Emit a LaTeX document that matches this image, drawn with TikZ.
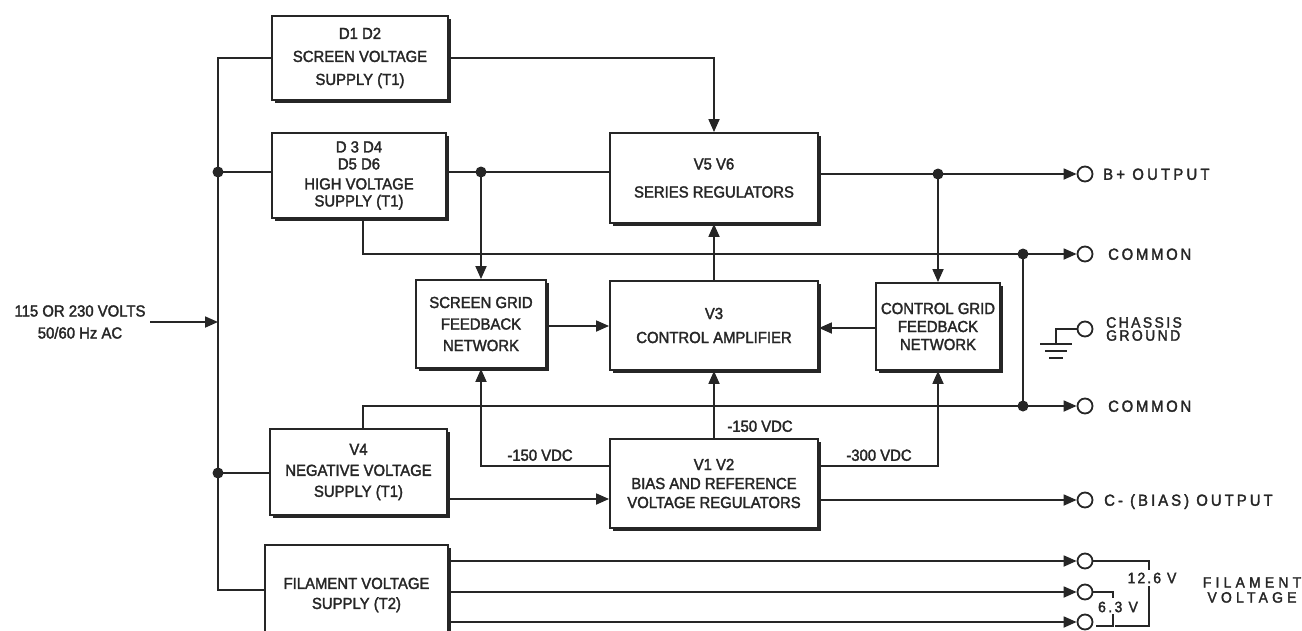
\documentclass[tikz,border=0pt]{standalone}
\usepackage{fontspec}
\setmainfont{Liberation Sans}[FakeStretch=0.93,FakeBold=2]
\usetikzlibrary{arrows.meta,shadows}
\definecolor{ink}{HTML}{262626}
\tikzset{
  blk/.style={draw=ink, line width=1.9pt, fill=white, align=center, inner sep=2pt,
    drop shadow={shadow xshift=3.2pt, shadow yshift=-3.2pt, fill=ink, draw=none, opacity=1}},
  bx/.style={font=\fontsize{16pt}{#1pt}\selectfont},
  ln/.style={line width=1.8pt},
  arr/.style={ln, -{Triangle[length=13pt,width=11pt]}},
  tml/.style={circle, draw=ink, line width=1.8pt, minimum size=15pt, inner sep=0pt, fill=white},
  jdot/.style={circle, fill=ink, inner sep=0pt, minimum size=11pt},
  lbl/.style={inner sep=0pt, text height=11.5pt, text depth=0pt, font=\fontsize{16pt}{18pt}\selectfont},
  sp/.style={inner sep=0pt, text height=11.5pt, text depth=0pt, anchor=west,
    font=\fontsize{16pt}{18pt}\selectfont\addfontfeature{LetterSpace=#1}},
  small/.style 2 args={inner sep=0pt, font=\fontsize{15pt}{#1pt}\selectfont\addfontfeature{LetterSpace=#2}},
}
\begin{document}
\begin{tikzpicture}[x=1pt,y=-1pt,color=ink]
\fill[white] (0,0) rectangle (1302,630);
\useasboundingbox (0,0) rectangle (1302,630);

% blocks
\node[blk, bx=23, minimum width=176pt, minimum height=84pt] (scr) at (360,58) {D1 D2\\SCREEN VOLTAGE\\SUPPLY (T1)};
\node[blk, bx=17, minimum width=174pt, minimum height=85pt] (hv) at (359,175.5) {D 3 D4\\D5 D6\\[3pt]HIGH VOLTAGE\\SUPPLY (T1)};
\node[blk, bx=28, minimum width=208pt, minimum height=90pt] (v56) at (714,178) {V5 V6\\SERIES REGULATORS};
\node[blk, bx=21.5, minimum width=130pt, minimum height=88pt] (sg) at (481,324) {SCREEN GRID\\FEEDBACK\\NETWORK};
\node[blk, bx=24, minimum width=208pt, minimum height=89pt] (v3) at (714,325.5) {V3\\CONTROL AMPLIFIER};
\node[blk, bx=18, minimum width=124pt, minimum height=87pt] (cg) at (938,326.5) {CONTROL GRID\\FEEDBACK\\NETWORK};
\node[blk, bx=21, minimum width=177pt, minimum height=86pt] (nv) at (358.5,472) {V4\\NEGATIVE VOLTAGE\\SUPPLY (T1)};
\node[blk, bx=19, minimum width=208pt, minimum height=89pt] (bias) at (714,483.5) {V1 V2\\BIAS AND REFERENCE\\VOLTAGE REGULATORS};
\node[blk, bx=20, minimum width=183pt, minimum height=100pt] (fil) at (356.5,595) {FILAMENT VOLTAGE\\SUPPLY (T2)};

% terminals
\node[tml] (tB) at (1085,174) {};
\node[tml] (tC1) at (1085,254) {};
\node[tml] (tG) at (1085,329) {};
\node[tml] (tC2) at (1085,406) {};
\node[tml] (tBias) at (1085,500) {};
\node[tml] (tF1) at (1085,561) {};
\node[tml] (tF2) at (1085,592) {};
\node[tml] (tF3) at (1085,622) {};

% junctions
\node[jdot] (j1) at (218,172) {};
\node[jdot] (j2) at (218,473) {};
\node[jdot] (j3) at (481,172) {};
\node[jdot] (j4) at (938,174) {};
\node[jdot] (j5) at (1023,254) {};
\node[jdot] (j6) at (1023,406) {};
\coordinate (bb) at (218,590);
\coordinate (ac) at (150,322);

% input label
\node[bx=22, align=center, inner sep=0pt] (acl) at (80,322) {115 OR 230 VOLTS\\50/60 Hz AC};

% mains bus
\draw[ln] (scr.west) -| (bb) -- (bb -| fil.west);
\draw[arr] (ac) -- (ac -| bb);
\draw[ln] (j1.center) -- (j1 -| hv.west);
\draw[ln] (j2.center) -- (j2 -| nv.west);

% high voltage
\draw[ln] (hv.east |- j3) -- (v56.west |- j3);
\draw[arr] (j3.center) -- (sg.north);
\draw[arr] (scr.east) -| (v56.north);
\draw[arr] (v56.east |- tB) -- (tB);
\draw[arr] (j4.center) -- (cg.north);

% commons
\draw[arr] (363,0 |- hv.south) |- (tC1);
\draw[ln] (j5.center) -- (j6.center);
\draw[arr] (363,0 |- nv.north) |- (tC2);

% control loop
\draw[arr] (v3.north) -- (v56.south);
\draw[arr] (sg.east |- 0,326) -- (v3.west |- 0,326);
\draw[arr] (cg.west |- 0,328) -- (v3.east |- 0,328);
\draw[arr] (bias.north) -- (v3.south);
\draw[arr] (bias.west |- 0,466) -| (sg.south);
\draw[arr] (bias.east |- 0,466) -| (cg.south);
\draw[arr] (nv.east |- 0,499) -- (bias.west |- 0,499);
\draw[arr] (bias.east |- tBias) -- (tBias);
\node[lbl] (l1) at (540,455) {-150 VDC};
\node[lbl] (l2) at (760,426) {-150 VDC};
\node[lbl] (l3) at (879,455) {-300 VDC};

% filament
\draw[arr] (fil.east |- tF1) -- (tF1);
\draw[arr] (fil.east |- tF2) -- (tF2);
\draw[arr] (fil.east |- tF3) -- (tF3);
\draw[ln] (tF1.east) -- (1149,561) -- (1149,570);
\draw[ln] (1149,586) -- (1149,626) -- (1115,626);
\draw[ln] (tF2.east) -- (1113,592) -- (1113,598);
\draw[ln] (1113,614) -- (1113,626) -- (1096,626);
\node[small={16}{14}] (v126) at (1152,578) {12.6 V};
\node[small={16}{16}] (v63) at (1118,607) {6.3 V};
\node[small={15}{28}, align=center] (lfil) at (1252,590) {FILAMENT\\VOLTAGE};

% chassis ground
\draw[ln] (tG.west) -| (1056,344);
\draw[ln] (1040,344) -- (1072,344);
\draw[ln] (1045,351) -- (1067,351);
\draw[ln] (1049,358) -- (1063,358);

% output labels
\node[sp=20] (lB) at (1103,174) {B+ OUTPUT};
\node[sp=17] (lC1) at (1108,254) {COMMON};
\node[sp=17] (lC2) at (1108,406) {COMMON};
\node[sp=19] (lBias) at (1104,500) {C- (BIAS) OUTPUT};
\node[small={13}{16}, anchor=west, align=left] (lG) at (1106,329) {CHASSIS\\GROUND};
\end{tikzpicture}
\end{document}
